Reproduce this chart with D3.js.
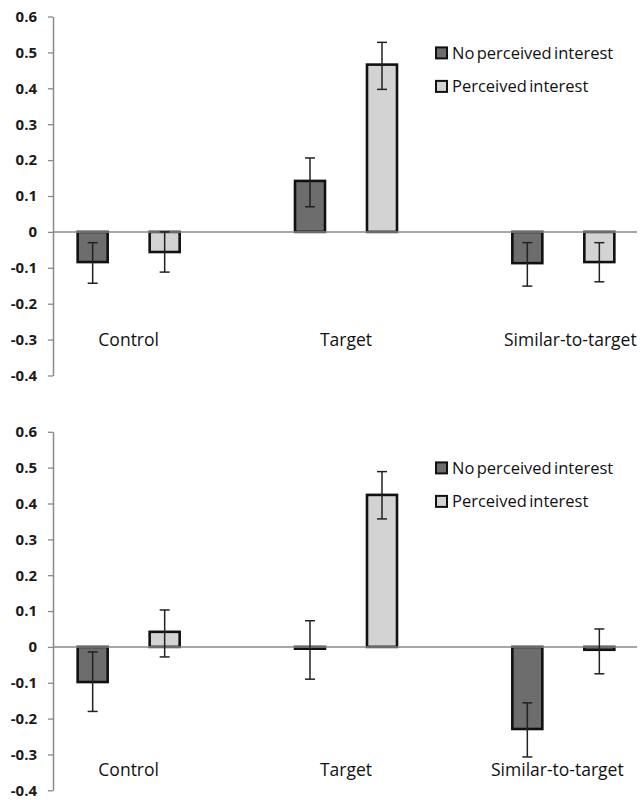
<!DOCTYPE html>
<html>
<head>
<meta charset="utf-8">
<script src="https://cdn.jsdelivr.net/npm/d3@7"></script>
<style>
  html, body { margin: 0; padding: 0; background: #fff; }
  svg { display: block; }
  text { font-family: "Open Sans", "DejaVu Sans", sans-serif; }
</style>
</head>
<body>
<svg id="chart" width="643" height="800"></svg>
<script>
// ---- data ----
const categories = ["Control", "Target", "Similar-to-target"];
const seriesNames = ["No perceived interest", "Perceived interest"];
const yTicks = [-0.4, -0.3, -0.2, -0.1, 0, 0.1, 0.2, 0.3, 0.4, 0.5, 0.6];
const yTickLabels = ["-0.4", "-0.3", "-0.2", "-0.1", "0", "0.1", "0.2", "0.3", "0.4", "0.5", "0.6"];

// top panel
const topNoInterest      = [-0.084, 0.142, -0.087];
const topNoInterestLow   = [-0.143, 0.070, -0.151];
const topNoInterestHigh  = [-0.030, 0.206, -0.030];
const topInterest        = [-0.056, 0.466, -0.084];
const topInterestLow     = [-0.112, 0.397, -0.139];
const topInterestHigh    = [ 0.000, 0.528, -0.030];

// bottom panel
const botNoInterest      = [-0.098, -0.005, -0.229];
const botNoInterestLow   = [-0.180, -0.090, -0.307];
const botNoInterestHigh  = [-0.014,  0.073, -0.156];
const botInterest        = [ 0.042,  0.424, -0.008];
const botInterestLow     = [-0.028,  0.357, -0.075];
const botInterestHigh    = [ 0.103,  0.489,  0.050];

// ---- layout ----
const svg = d3.select("#chart");
const colors = { "No perceived interest": "#6d6d6d", "Perceived interest": "#d3d3d3" };
const axisX = 53, zeroEnd = 637;
const x0 = d3.scaleBand().domain(categories).range([20, 672]);
const x1 = d3.scaleBand().domain(seriesNames).range([-72, 72]);
const barW = 30;

function buildRows(vals, lows, highs, s) {
  return categories.map((c, i) => ({ cat: c, series: s, v: vals[i], lo: lows[i], hi: highs[i] }));
}

const panels = [
  {
    range: [375.5, 16.5], labelVal: -0.3, lastLabelDx: 7,
    rows: buildRows(topNoInterest, topNoInterestLow, topNoInterestHigh, seriesNames[0])
      .concat(buildRows(topInterest, topInterestLow, topInterestHigh, seriesNames[1]))
  },
  {
    range: [790.3, 431.8], labelVal: -0.343, lastLabelDx: -6,
    rows: buildRows(botNoInterest, botNoInterestLow, botNoInterestHigh, seriesNames[0])
      .concat(buildRows(botInterest, botInterestLow, botInterestHigh, seriesNames[1]))
  }
];

panels.forEach(p => {
  const y = d3.scaleLinear().domain([-0.4, 0.6]).range(p.range);
  const g = svg.append("g");

  // y axis
  const ax = g.append("g")
    .attr("transform", `translate(${axisX},0)`)
    .call(d3.axisLeft(y).tickValues(yTicks).tickSize(5).tickSizeOuter(0).tickPadding(11)
      .tickFormat((d, i) => yTickLabels[i]));
  ax.select(".domain").attr("stroke", "#8a8a8a").attr("stroke-width", 1.5);
  ax.selectAll(".tick line").attr("stroke", "#8a8a8a").attr("stroke-width", 1.3);
  ax.selectAll(".tick text")
    .attr("fill", "#1a1a1a")
    .style("font-family", "'Open Sans', sans-serif")
    .style("font-size", "15px")
    .style("font-weight", "bold");

  const cx = (d) => x0(d.cat) + x0.bandwidth() / 2 + x1(d.series) + x1.bandwidth() / 2;

  // bars
  g.selectAll("rect.bar").data(p.rows).join("rect")
    .attr("class", "bar")
    .attr("x", d => cx(d) - barW / 2)
    .attr("width", barW)
    .attr("y", d => Math.min(y(d.v), y(0)))
    .attr("height", d => Math.max(Math.abs(y(d.v) - y(0)), 0.5))
    .attr("fill", d => colors[d.series])
    .attr("stroke", "#111")
    .attr("stroke-width", 2.6);

  // zero line
  g.append("line")
    .attr("x1", axisX).attr("x2", zeroEnd)
    .attr("y1", y(0)).attr("y2", y(0))
    .attr("stroke", "#8a8a8a").attr("stroke-width", 1.5);

  // error bars
  const eg = g.selectAll("g.err").data(p.rows).join("g").attr("class", "err")
    .attr("stroke", "#222").attr("stroke-width", 1.5);
  eg.append("line").attr("x1", cx).attr("x2", cx).attr("y1", d => y(d.lo)).attr("y2", d => y(d.hi));
  eg.append("line").attr("x1", d => cx(d) - 5).attr("x2", d => cx(d) + 5).attr("y1", d => y(d.lo)).attr("y2", d => y(d.lo));
  eg.append("line").attr("x1", d => cx(d) - 5).attr("x2", d => cx(d) + 5).attr("y1", d => y(d.hi)).attr("y2", d => y(d.hi));

  // category labels
  g.selectAll("text.cat").data(categories).join("text")
    .attr("class", "cat")
    .attr("x", (c, i) => x0(c) + x0.bandwidth() / 2 + (i === categories.length - 1 ? p.lastLabelDx : 0))
    .attr("y", y(p.labelVal))
    .attr("dy", "0.35em")
    .attr("text-anchor", "middle")
    .attr("fill", "#111")
    .style("font-size", "17.5px")
    .text(c => c);

  // legend
  const lg = g.selectAll("g.leg").data(seriesNames).join("g").attr("class", "leg")
    .attr("transform", (s, i) => `translate(436, ${y(0) - 179 + i * 33.5})`);
  lg.append("rect").attr("x", 0).attr("y", -5.5).attr("width", 11).attr("height", 11)
    .attr("fill", s => colors[s]).attr("stroke", "#111").attr("stroke-width", 2);
  lg.append("text").attr("x", 16).attr("y", 0).attr("dy", "0.35em")
    .attr("fill", "#111").style("font-size", "16.5px").style("word-spacing", "-2px")
    .text(s => s);
});
</script>
</body>
</html>
